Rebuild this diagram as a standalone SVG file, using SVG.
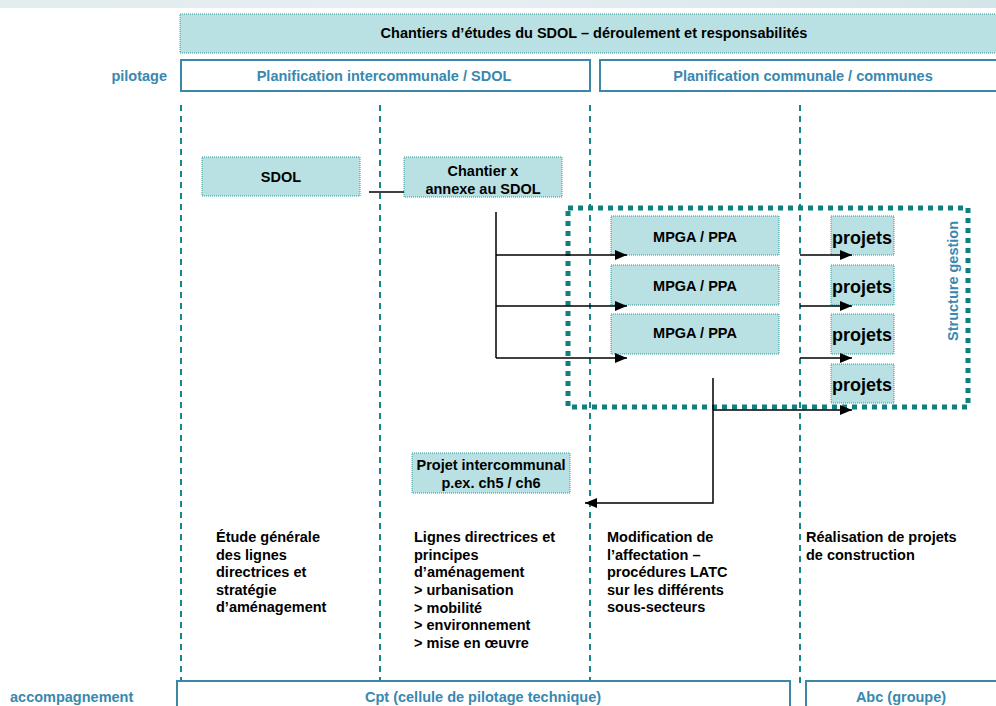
<svg xmlns="http://www.w3.org/2000/svg" width="996" height="706" viewBox="0 0 996 706">
<defs>
<linearGradient id="band" x1="0" y1="0" x2="1" y2="0">
<stop offset="0" stop-color="#e2edf0"/><stop offset="0.5" stop-color="#e6eef2"/><stop offset="1" stop-color="#d3e5e8"/>
</linearGradient>
<marker id="ah" markerUnits="userSpaceOnUse" markerWidth="13" markerHeight="10" refX="12" refY="5" orient="auto">
<path d="M0,0 L12,5 L0,10 z" fill="#000"/>
</marker>
<style>
.box{fill:#b9e0e3;stroke:#2a9a9a;stroke-width:1;stroke-dasharray:1 1}
.hdr{fill:#fff;stroke:#3a87a8;stroke-width:2}
.t{font-family:"Liberation Sans",Arial,sans-serif;font-weight:bold;font-size:14.5px;fill:#000}
.m{text-anchor:middle}
.b{fill:#3888b0}
.p{font-size:18px}
.vl{stroke:#15868a;stroke-width:2;stroke-dasharray:6 5;fill:none}
.conn{stroke:#000;stroke-width:1.5;fill:none}
.arr{marker-end:url(#ah)}
.sg{fill:none;stroke:#0f8080;stroke-width:5;stroke-dasharray:5 5}
</style>
</defs>
<rect x="0" y="0" width="996" height="8" fill="url(#band)"/>

<g id="title">
<rect class="box" x="180" y="14" width="820" height="39"/>
<text class="t m" x="594" y="38">Chantiers d’études du SDOL – déroulement et responsabilités</text>
</g>
<g id="label-pilotage"><text class="t b" x="167" y="81" text-anchor="end">pilotage</text></g>
<g id="planif-inter">
<rect class="hdr" x="181" y="60" width="409" height="31"/>
<text class="t b m" x="384" y="81">Planification intercommunale / SDOL</text>
</g>
<g id="planif-comm">
<rect class="hdr" x="600" y="60" width="400" height="31"/>
<text class="t b m" x="803" y="81">Planification communale / communes</text>
</g>

<g id="columns">
<line class="vl" x1="181" y1="105" x2="181" y2="684"/>
<line class="vl" x1="380" y1="105" x2="380" y2="684"/>
<line class="vl" x1="590" y1="105" x2="590" y2="684"/>
<line class="vl" x1="800" y1="105" x2="800" y2="684"/>
</g>

<g id="structure-gestion">
<rect class="sg" x="568" y="208" width="400" height="199"/>
<text class="t b m" transform="translate(958,281) rotate(-90)">Structure gestion</text>
</g>

<g id="sdol">
<rect class="box" x="202" y="157" width="158" height="39"/>
<text class="t m" x="281" y="182">SDOL</text>
</g>
<g id="chantier">
<rect class="box" x="404" y="157" width="158" height="40"/>
<text class="t m" x="483" y="176">Chantier x</text>
<text class="t m" x="483" y="194">annexe au SDOL</text>
</g>

<g id="mpga1"><rect class="box" x="611" y="216" width="168" height="39"/><text class="t m" x="695" y="242">MPGA / PPA</text></g>
<g id="mpga2"><rect class="box" x="611" y="265" width="168" height="40"/><text class="t m" x="695" y="291">MPGA / PPA</text></g>
<g id="mpga3"><rect class="box" x="611" y="314" width="168" height="40"/><text class="t m" x="695" y="338">MPGA / PPA</text></g>

<g id="projets1"><rect class="box" x="831" y="216" width="63" height="39"/><text class="t p m" x="862" y="244">projets</text></g>
<g id="projets2"><rect class="box" x="831" y="265" width="63" height="40"/><text class="t p m" x="862" y="293">projets</text></g>
<g id="projets3"><rect class="box" x="831" y="314" width="63" height="40"/><text class="t p m" x="862" y="341">projets</text></g>
<g id="projets4"><rect class="box" x="831" y="364" width="63" height="39"/><text class="t p m" x="862" y="391">projets</text></g>

<g id="projet-intercommunal">
<rect class="box" x="412" y="453" width="158" height="40"/>
<text class="t m" x="491" y="470">Projet intercommunal</text>
<text class="t m" x="491" y="488">p.ex. ch5 / ch6</text>
</g>

<g id="connectors">
<line class="conn" x1="369" y1="192" x2="404" y2="192"/>
<line class="conn" x1="496" y1="212" x2="496" y2="358"/>
<line class="conn arr" x1="496" y1="255" x2="627" y2="255"/>
<line class="conn arr" x1="496" y1="306" x2="627" y2="306"/>
<line class="conn arr" x1="496" y1="358" x2="627" y2="358"/>
<line class="conn arr" x1="800" y1="255" x2="852" y2="255"/>
<line class="conn arr" x1="800" y1="306" x2="852" y2="306"/>
<line class="conn arr" x1="800" y1="358" x2="852" y2="358"/>
<polyline class="conn arr" points="713,378 713,503 585,503"/>
<line class="conn arr" x1="713" y1="410" x2="852" y2="410"/>
</g>

<g id="desc1">
<text class="t" x="216" y="542">Étude générale</text>
<text class="t" x="216" y="560">des lignes</text>
<text class="t" x="216" y="577">directrices et</text>
<text class="t" x="216" y="595">stratégie</text>
<text class="t" x="216" y="612">d’aménagement</text>
</g>
<g id="desc2">
<text class="t" x="414" y="542">Lignes directrices et</text>
<text class="t" x="414" y="560">principes</text>
<text class="t" x="414" y="577">d’aménagement</text>
<text class="t" x="414" y="595">&gt; urbanisation</text>
<text class="t" x="414" y="613">&gt; mobilité</text>
<text class="t" x="414" y="630">&gt; environnement</text>
<text class="t" x="414" y="648">&gt; mise en œuvre</text>
</g>
<g id="desc3">
<text class="t" x="607" y="542">Modification de</text>
<text class="t" x="607" y="560">l’affectation –</text>
<text class="t" x="607" y="577">procédures LATC</text>
<text class="t" x="607" y="595">sur les différents</text>
<text class="t" x="607" y="612">sous-secteurs</text>
</g>
<g id="desc4">
<text class="t" x="806" y="542">Réalisation de projets</text>
<text class="t" x="806" y="560">de construction</text>
</g>

<g id="label-accompagnement"><text class="t b" x="10" y="702">accompagnement</text></g>
<g id="cpt">
<rect class="hdr" x="177" y="681" width="613" height="40"/>
<text class="t b m" x="483" y="702">Cpt (cellule de pilotage technique)</text>
</g>
<g id="abc">
<rect class="hdr" x="806" y="681" width="200" height="40"/>
<text class="t b m" x="901" y="702">Abc (groupe)</text>
</g>
</svg>
